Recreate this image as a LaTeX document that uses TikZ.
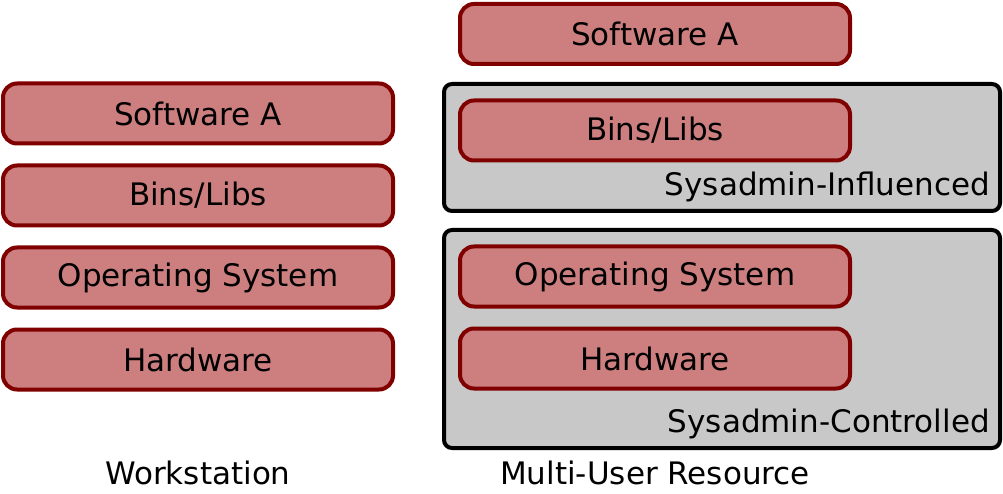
\documentclass[tikz,border=0pt]{standalone}
\usepackage{fontspec}
\setmainfont{DejaVu Sans}
\begin{document}
\begin{tikzpicture}[x=1pt,y=-1pt,
  layer/.style={draw=red!50!black,line width=4pt,fill={rgb,255:red,205;green,127;blue,127},rounded corners=14pt,minimum width=390pt,minimum height=60pt,font=\fontsize{31}{34}\selectfont,inner sep=0pt},
  zone/.style={draw=black,line width=4pt,fill={rgb,255:red,200;green,200;blue,200},rounded corners=8pt},
  lbl/.style={font=\fontsize{31}{34}\selectfont,inner sep=0pt}]
\useasboundingbox (0,0) rectangle (1003,494);
\draw[zone] (444,84) rectangle (1000,211);
\draw[zone] (444,230) rectangle (1000,448);
\node[layer] (wsa) at (198,113.5) {Software A};
\node[layer] (wbl) at (198,195.5) {Bins/Libs};
\node[layer] (wos) at (198,277.5) {Operating System};
\node[layer] (whw) at (198,359.5) {Hardware};
\node[layer] (msa) at (655,34) {Software A};
\node[layer] (mbl) at (655,130.5) {Bins/Libs};
\node[layer] (mos) at (655,276.5) {Operating System};
\node[layer] (mhw) at (655,358.5) {Hardware};
\node[lbl,anchor=base east] (si) at (990,196) {Sysadmin-Influenced};
\node[lbl,anchor=base east] (sc) at (990,432) {Sysadmin-Controlled};
\node[lbl,anchor=base] (ws) at (198,484) {Workstation};
\node[lbl,anchor=base] (mu) at (655,484) {Multi-User Resource};
\end{tikzpicture}
\end{document}
